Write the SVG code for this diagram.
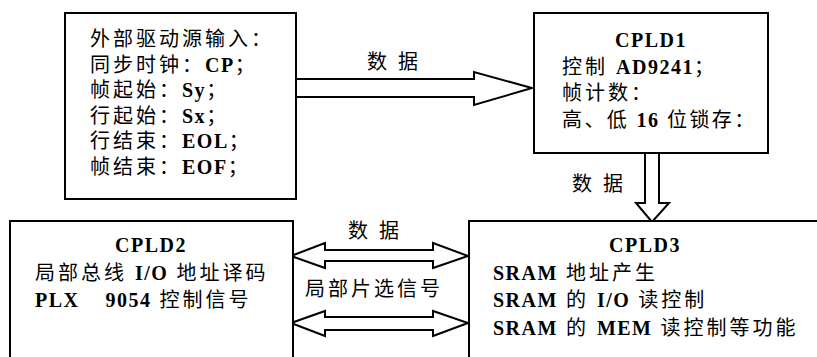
<svg xmlns="http://www.w3.org/2000/svg" width="817" height="357" viewBox="0 0 817 357">
<style>
.box{fill:#fff;stroke:#000;stroke-width:2}
.arr{fill:#fff;stroke:#000;stroke-width:2;stroke-linejoin:miter}
text{font-family:"Liberation Serif","Noto Sans CJK SC",serif;font-size:20px;fill:#000;letter-spacing:3px}
.c{text-anchor:middle}
.b{font-weight:bold;letter-spacing:1.5px}
</style>
<rect width="817" height="357" fill="#fff"/>
<g id="connectors">
<polygon class="arr" points="296,79 474,79 474,72 532,88 474,105 474,97 296,97"/>
<text x="367" y="69">数 据</text>
<polygon class="arr" points="645,153 659,153 659,203 669,203 652,222 636,203 645,203"/>
<text x="572" y="191">数 据</text>
<polygon class="arr" points="291,256 325,243 325,250 433,250 433,243 468,256 433,268 433,261 325,261 325,268"/>
<text x="348" y="238">数 据</text>
<polygon class="arr" points="291,323 325,311 325,317 433,317 433,311 468,323 433,336 433,330 325,330 325,336"/>
<text x="305" y="296">局部片选信号</text>
</g>
<g id="input">
<rect class="box" x="65" y="13" width="231" height="186"/>
<text x="90" y="46">外部驱动源输入：</text>
<text x="90" y="72">同步时钟：<tspan class="b">CP</tspan>；</text>
<text x="90" y="97">帧起始：<tspan class="b">Sy</tspan>；</text>
<text x="90" y="123">行起始：<tspan class="b">Sx</tspan>；</text>
<text x="90" y="148">行结束：<tspan class="b">EOL</tspan>；</text>
<text x="90" y="174">帧结束：<tspan class="b">EOF</tspan>；</text>
</g>
<g id="cpld1">
<rect class="box" x="534" y="13" width="234" height="140"/>
<text class="c b" x="651" y="47">CPLD1</text>
<text x="562" y="74">控制 <tspan class="b">AD9241</tspan>；</text>
<text x="562" y="100">帧计数：</text>
<text x="562" y="127" style="letter-spacing:2.4px">高、低 <tspan class="b">16</tspan> 位锁存：</text>
</g>
<g id="cpld2">
<path class="box" d="M10,360 V221 H293 V360"/>
<text class="c b" x="151" y="252">CPLD2</text>
<text x="35" y="280">局部总线 <tspan class="b">I/O</tspan> 地址译码</text>
<text x="35" y="307" xml:space="preserve"><tspan class="b">PLX    9054</tspan> 控制信号</text>
</g>
<g id="cpld3">
<path class="box" d="M469,360 V221 H820"/>
<text class="c b" x="645" y="252">CPLD3</text>
<text x="493" y="280"><tspan class="b">SRAM</tspan> 地址产生</text>
<text x="493" y="307"><tspan class="b">SRAM</tspan> 的 <tspan class="b">I/O</tspan> 读控制</text>
<text x="493" y="335"><tspan class="b">SRAM</tspan> 的 <tspan class="b">MEM</tspan> 读控制等功能</text>
</g>
</svg>
